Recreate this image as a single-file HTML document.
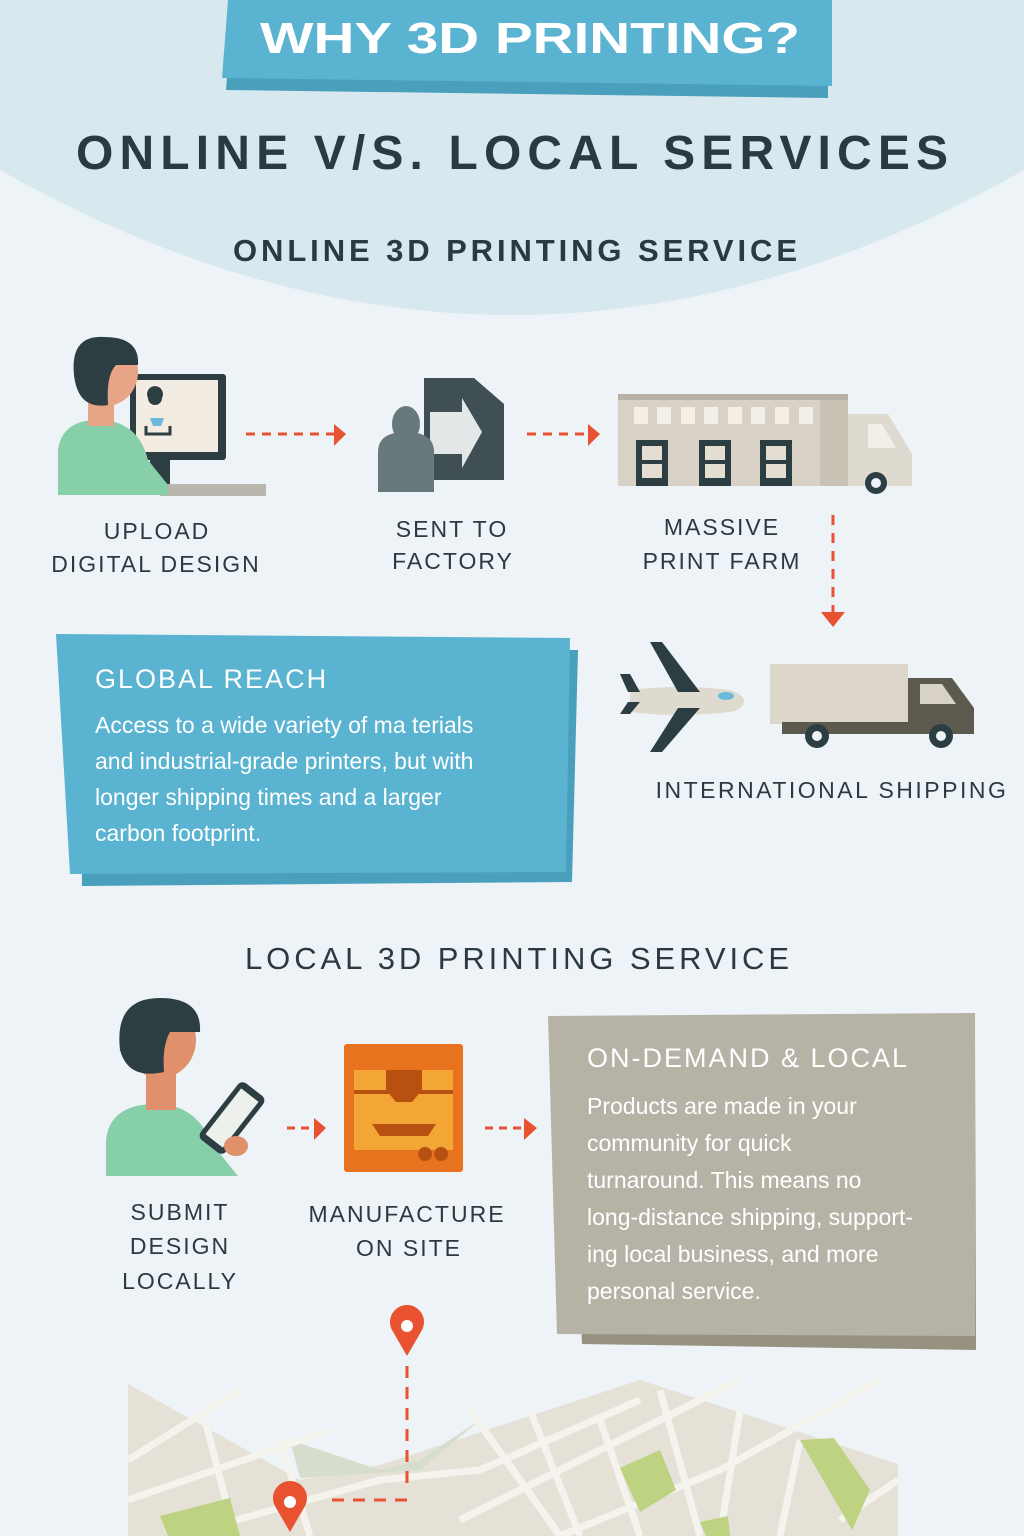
<!DOCTYPE html>
<html><head><meta charset="utf-8"><style>
html,body{margin:0;padding:0;background:#edf3f6;}
svg{display:block;}
text{font-family:"Liberation Sans",sans-serif;}
</style></head><body>
<svg width="1024" height="1536" viewBox="0 0 1024 1536" xmlns="http://www.w3.org/2000/svg">
<rect width="1024" height="1536" fill="#edf3f6"/>
<path d="M0 0 H1024 V170 Q512 460 0 170 Z" fill="#d7e9ee"/>
<!-- banner -->
<polygon points="232,10 828,14 828,98 226,90" fill="#4a9fbd"/>
<polygon points="228,0 832,0 832,86 222,78" fill="#5ab3d0"/>
<text x="530" y="53" text-anchor="middle" font-size="44" font-weight="bold" fill="#fff" textLength="540" lengthAdjust="spacingAndGlyphs">WHY 3D PRINTING?</text>
<text x="512" y="169" text-anchor="middle" font-size="48" font-weight="bold" fill="#2b3a40" textLength="872" lengthAdjust="spacing">ONLINE V/S. LOCAL SERVICES</text>
<text x="515" y="261" text-anchor="middle" font-size="31" fill="#2b3a40" textLength="564" lengthAdjust="spacing" font-weight="bold">ONLINE 3D PRINTING SERVICE</text>

<!-- computer person -->
<rect x="130" y="374" width="96" height="86" rx="3" fill="#2d3e43"/>
<rect x="136" y="380" width="82" height="72" fill="#f3ece2"/>
<rect x="150" y="460" width="20" height="24" fill="#2d3e43"/>
<rect x="160" y="484" width="106" height="12" fill="#b9b6ad"/>
<path d="M148 398 a8 8 0 1 1 14 0 a7 7 0 1 1 -14 0z" fill="#2d3e43"/>
<path d="M150 418 h14 l-3 8 h-8z" fill="#6cb9db"/>
<path d="M146 426 v8 h24 v-8" stroke="#2d3e43" stroke-width="3" fill="none"/>
<path d="M58 495 V450 q4 -30 40 -30 q40 0 50 40 l20 25 v10z" fill="#86cfa8"/>
<rect x="88" y="392" width="26" height="34" fill="#e8a487"/>
<ellipse cx="106" cy="372" rx="32" ry="34" fill="#e8a487"/>
<path d="M74 375 q-4 -40 30 -38 q36 0 34 28 l-22 0 q-10 10 -8 40 q-30 5 -34 -30z" fill="#2d3e43"/>
<!-- arrows -->
<line x1="246" y1="434" x2="334" y2="434" stroke="#e85230" stroke-width="3" stroke-dasharray="9,7"/>
<polygon points="334,424 346,434 334,446" fill="#e85230"/>
<line x1="527" y1="434" x2="588" y2="434" stroke="#e85230" stroke-width="3" stroke-dasharray="9,7"/>
<polygon points="588,424 600,434 588,446" fill="#e85230"/>
<!-- factory doc -->
<path d="M424 378 h50 l30 26 v76 h-80z" fill="#3f4f54"/>
<polygon points="430,412 462,412 462,398 482,432 462,468 462,454 430,454" fill="#e3e7e8"/>
<ellipse cx="406" cy="424" rx="14" ry="18" fill="#68797c"/>
<path d="M378 492 v-40 q0 -20 28 -20 q28 0 28 20 v40z" fill="#68797c"/>
<!-- building truck -->
<rect x="618" y="394" width="230" height="92" fill="#d8d2c6"/>
<rect x="618" y="394" width="230" height="6" fill="#b8b2a6"/>
<rect x="820" y="400" width="28" height="86" fill="#c8c2b5"/>
<g fill="#f3efe6"><rect x="634" y="407" width="14" height="17"/><rect x="657" y="407" width="14" height="17"/><rect x="681" y="407" width="14" height="17"/><rect x="704" y="407" width="14" height="17"/><rect x="728" y="407" width="14" height="17"/><rect x="751" y="407" width="14" height="17"/><rect x="775" y="407" width="14" height="17"/><rect x="799" y="407" width="14" height="17"/></g>
<g fill="#2d3e43"><rect x="636" y="440" width="32" height="46"/><rect x="699" y="440" width="32" height="46"/><rect x="760" y="440" width="32" height="46"/></g>
<g fill="#e3ddd2"><rect x="642" y="446" width="20" height="14"/><rect x="642" y="464" width="20" height="14"/><rect x="705" y="446" width="20" height="14"/><rect x="705" y="464" width="20" height="14"/><rect x="766" y="446" width="20" height="14"/><rect x="766" y="464" width="20" height="14"/></g>
<path d="M848 414 h40 l24 40 v32 h-64z" fill="#dedad0"/>
<path d="M868 424 h14 l14 24 h-28z" fill="#f3efe6"/>
<circle cx="876" cy="483" r="11" fill="#2d3e43"/><circle cx="876" cy="483" r="5" fill="#edf3f6"/>
<text x="157" y="539" text-anchor="middle" font-size="23" fill="#2b3a40" letter-spacing="2">UPLOAD</text>
<text x="156" y="572" text-anchor="middle" font-size="23" fill="#2b3a40" letter-spacing="2">DIGITAL DESIGN</text>
<text x="452" y="537" text-anchor="middle" font-size="23" fill="#2b3a40" letter-spacing="2">SENT TO</text>
<text x="453" y="569" text-anchor="middle" font-size="23" fill="#2b3a40" letter-spacing="2">FACTORY</text>
<text x="722" y="535" text-anchor="middle" font-size="23" fill="#2b3a40" letter-spacing="2">MASSIVE</text>
<text x="722" y="569" text-anchor="middle" font-size="23" fill="#2b3a40" letter-spacing="2">PRINT FARM</text>
<line x1="833" y1="515" x2="833" y2="612" stroke="#e85230" stroke-width="3" stroke-dasharray="10,8"/>
<polygon points="821,612 845,612 833,627" fill="#e85230"/>
<!-- global reach box -->
<polygon points="80,652 578,650 572,882 82,886" fill="#4a9fbd"/>
<polygon points="56,634 570,638 566,872 70,874" fill="#5ab3d0"/>
<text x="95" y="688" font-size="27" fill="#fff" letter-spacing="2">GLOBAL REACH</text>
<g font-size="23" fill="#fff"><text x="95" y="733">Access to a wide variety of ma terials</text><text x="95" y="769">and industrial-grade printers, but with</text><text x="95" y="805">longer shipping times and a larger</text><text x="95" y="841">carbon footprint.</text></g>
<!-- plane -->
<path d="M630 690 q50 -6 100 0 q15 5 14 12 q-2 8 -14 10 q-50 6 -100 0 z" fill="#dedad0"/>
<polygon points="650,642 662,642 700,692 678,692" fill="#2d3e43"/>
<polygon points="678,708 700,708 662,752 650,752" fill="#2d3e43"/>
<polygon points="620,674 630,674 640,692 628,692" fill="#2d3e43"/>
<polygon points="628,702 640,702 630,714 620,714" fill="#2d3e43"/>
<ellipse cx="726" cy="696" rx="8" ry="4" fill="#6cb9db"/>
<!-- truck -->
<rect x="770" y="664" width="138" height="60" fill="#ddd6ca"/>
<path d="M908 678 h44 l22 30 v26 h-66z" fill="#5c5a4e"/>
<path d="M920 684 h22 l14 20 h-36z" fill="#d8d2c6"/>
<rect x="782" y="722" width="192" height="12" fill="#5c5a4e"/>
<circle cx="817" cy="736" r="12" fill="#2d3e43"/><circle cx="817" cy="736" r="5" fill="#edf3f6"/>
<circle cx="941" cy="736" r="12" fill="#2d3e43"/><circle cx="941" cy="736" r="5" fill="#edf3f6"/>
<text x="832" y="798" text-anchor="middle" font-size="23" fill="#2b3a40" letter-spacing="2.5">INTERNATIONAL SHIPPING</text>
<text x="517" y="969" text-anchor="middle" font-size="31" fill="#2b3a40" textLength="544" lengthAdjust="spacing">LOCAL 3D PRINTING SERVICE</text>
<!-- person tablet -->
<path d="M106 1176 V1140 q4 -36 50 -36 q40 0 56 40 l26 32z" fill="#86cfa8"/>
<rect x="146" y="1070" width="30" height="40" fill="#e0906a"/>
<ellipse cx="160" cy="1040" rx="36" ry="38" fill="#e0906a"/>
<path d="M120 1050 q-6 -52 40 -52 q42 0 40 34 l-30 0 q-8 14 -6 40 q-36 8 -44 -22z" fill="#2d3e43"/>
<g transform="rotate(38 232 1118)"><rect x="216" y="1082" width="32" height="72" rx="6" fill="#2d3e43"/><rect x="221" y="1089" width="22" height="58" fill="#eef0ec"/></g>
<ellipse cx="236" cy="1146" rx="12" ry="10" fill="#e0906a"/>
<line x1="287" y1="1128" x2="314" y2="1128" stroke="#e85230" stroke-width="3" stroke-dasharray="8,6"/>
<polygon points="314,1118 326,1128 314,1140" fill="#e85230"/>
<line x1="485" y1="1128" x2="524" y2="1128" stroke="#e85230" stroke-width="3" stroke-dasharray="8,6"/>
<polygon points="524,1118 537,1128 524,1140" fill="#e85230"/>
<!-- printer -->
<rect x="344" y="1044" width="119" height="128" rx="3" fill="#e8721e"/>
<rect x="354" y="1070" width="99" height="80" fill="#f3a535"/>
<rect x="354" y="1090" width="99" height="4" fill="#b8500f"/>
<path d="M386 1070 h36 v20 l-10 12 h-16 l-10 -12z" fill="#b8500f"/>
<path d="M372 1124 h64 l-8 12 h-48z" fill="#b8500f"/>
<circle cx="425" cy="1154" r="7" fill="#b8500f"/><circle cx="441" cy="1154" r="7" fill="#b8500f"/>
<g font-size="23" fill="#2b3a40" letter-spacing="2" text-anchor="middle"><text x="180" y="1220">SUBMIT</text><text x="180" y="1254">DESIGN</text><text x="180" y="1289">LOCALLY</text><text x="407" y="1222">MANUFACTURE</text><text x="409" y="1256">ON SITE</text></g>
<!-- on demand box -->
<polygon points="570,1034 975,1034 976,1350 582,1344" fill="#97927f"/>
<polygon points="548,1016 975,1013 975,1336 557,1334" fill="#b6b3a6"/>
<text x="587" y="1067" font-size="27" fill="#fff" letter-spacing="2">ON-DEMAND &amp; LOCAL</text>
<g font-size="23" fill="#fff"><text x="587" y="1114">Products are made in your</text><text x="587" y="1151">community for quick</text><text x="587" y="1188">turnaround. This means no</text><text x="587" y="1225">long-distance shipping, support-</text><text x="587" y="1262">ing local business, and more</text><text x="587" y="1299">personal service.</text></g>
<!-- map -->
<polygon points="128,1384 300,1480 380,1465 640,1380 898,1464 898,1536 128,1536" fill="#e5e1d6"/>
<polygon points="290,1440 380,1470 420,1460 480,1420 420,1470 300,1478" fill="#d6ddcc"/>
<g stroke="#f5f3ee" stroke-width="7" fill="none">
<path d="M128 1460 L240 1390"/><path d="M128 1500 L330 1430"/><path d="M200 1530 L380 1480 L480 1470 L640 1400"/>
<path d="M205 1420 L235 1536"/><path d="M280 1440 L310 1536"/><path d="M470 1410 L560 1536"/>
<path d="M530 1410 L580 1536"/><path d="M600 1420 L640 1536"/><path d="M660 1390 L700 1536"/>
<path d="M740 1410 L720 1536"/><path d="M800 1440 L780 1536"/><path d="M460 1520 L660 1420 L740 1380"/>
<path d="M560 1536 L720 1470 L880 1380"/><path d="M840 1520 L898 1480"/>
</g>
<polygon points="620,1468 660,1450 676,1490 640,1512" fill="#bdd382"/>
<polygon points="800,1440 834,1438 870,1490 852,1530" fill="#bdd382"/>
<polygon points="160,1516 230,1498 240,1536 168,1536" fill="#bdd382"/>
<polygon points="700,1522 728,1516 730,1536 706,1536" fill="#bdd382"/>
<line x1="407" y1="1366" x2="407" y2="1490" stroke="#e85230" stroke-width="3" stroke-dasharray="12,9"/>
<path d="M407 1500 h-80" stroke="#e85230" stroke-width="3" stroke-dasharray="12,9"/>
<path d="M407 1356 L392 1330 A17 17 0 1 1 422 1330 Z" fill="#e85230"/><circle cx="407" cy="1326" r="6" fill="#fff"/>
<path d="M290 1532 L275 1506 A17 17 0 1 1 305 1506 Z" fill="#e85230"/><circle cx="290" cy="1502" r="6" fill="#fff"/>
</svg>
</body></html>
